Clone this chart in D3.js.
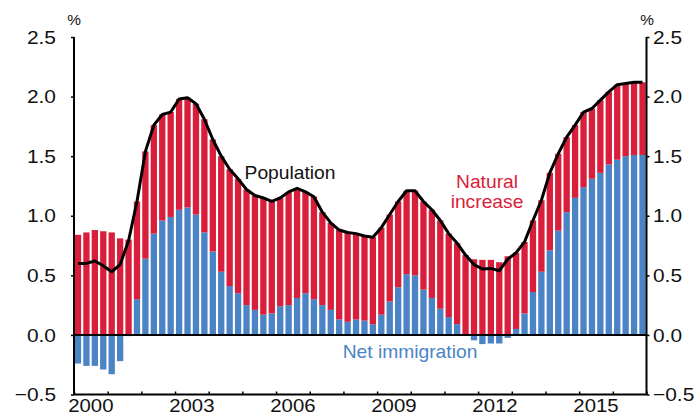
<!DOCTYPE html>
<html>
<head>
<meta charset="utf-8">
<script src="https://cdn.jsdelivr.net/npm/d3@7"></script>
<style>
  body { margin: 0; background: #fff; }
  text { font-family: "Liberation Sans", Arial, sans-serif; }
</style>
</head>
<body>
<div id="wrapper"></div>
<script>
// quarterly data, 2000Q1 .. 2016Q4 (year-ended growth, %)
const years = [2000, 2001, 2002, 2003, 2004, 2005, 2006, 2007, 2008,
               2009, 2010, 2011, 2012, 2013, 2014, 2015, 2016]
const quarters = years.flatMap(y => ["Q1", "Q2", "Q3", "Q4"].map(q => y + q))

const netImmigration = [
  -0.24, -0.26, -0.26, -0.29, -0.33, -0.22, -0.01, 0.30,
   0.64,  0.85,  0.96,  0.99,  1.05,  1.07,  1.01, 0.86,
   0.70,  0.53,  0.41,  0.35,  0.25,  0.21,  0.17, 0.18,
   0.24,  0.25,  0.31,  0.35,  0.30,  0.25,  0.21, 0.13,
   0.11,  0.13,  0.12,  0.09,  0.17,  0.28,  0.40, 0.51,
   0.50,  0.38,  0.31,  0.22,  0.15,  0.09,  0.00, -0.045,
  -0.077, -0.072, -0.072, -0.025, 0.05, 0.18, 0.36, 0.53,
   0.71,  0.875, 1.03,  1.15,  1.24,  1.31,  1.36, 1.43,
   1.47,  1.50,  1.51,  1.51
]
const naturalIncrease = [
  0.84, 0.86, 0.88, 0.87, 0.86, 0.81, 0.80, 0.82,
  0.90, 0.91, 0.89, 0.88, 0.93, 0.92, 0.93, 0.95,
  0.94, 0.97, 0.98, 0.96, 0.97, 0.96, 0.98, 0.94,
  0.91, 0.95, 0.92, 0.85, 0.86, 0.78, 0.73, 0.75,
  0.75, 0.72, 0.71, 0.73, 0.73, 0.73, 0.72, 0.70,
  0.71, 0.74, 0.74, 0.74, 0.70, 0.68, 0.67, 0.635,
  0.63, 0.63, 0.61, 0.66, 0.64, 0.60, 0.60, 0.60,
  0.65, 0.645, 0.63, 0.61, 0.63, 0.59, 0.61, 0.61,
  0.63, 0.61, 0.61, 0.61
]
const yTicks = [-0.5, 0, 0.5, 1, 1.5, 2, 2.5]
const yearLabels = [2000, 2003, 2006, 2009, 2012, 2015]

const RED = "#d91e3b"
const BLUE = "#4a84c5"

const width = 697
const height = 416
const margin = { left: 74, right: 646.5, top: 37, bottom: 394.5 }

const data = quarters.map((q, i) => ({
  q,
  net: netImmigration[i],
  nat: naturalIncrease[i],
  total: netImmigration[i] + naturalIncrease[i]
}))

const svg = d3.select("#wrapper")
  .append("svg")
  .attr("width", width)
  .attr("height", height)

const y = d3.scaleLinear().domain([-0.5, 2.5]).range([margin.bottom, margin.top])
const xYear = d3.scaleLinear().domain([2000, 2017]).range([margin.left, margin.right])
const x = d3.scaleBand().domain(quarters).range([margin.left, margin.right])
  .paddingInner(0.25).paddingOuter(0.1)

// net immigration bars
svg.append("g").selectAll("rect")
  .data(data)
  .join("rect")
  .attr("x", d => x(d.q))
  .attr("width", x.bandwidth())
  .attr("y", d => y(Math.max(d.net, 0)))
  .attr("height", d => Math.abs(y(d.net) - y(0)))
  .attr("fill", BLUE)

// natural increase stacked on top of positive immigration
svg.append("g").selectAll("rect")
  .data(data)
  .join("rect")
  .attr("x", d => x(d.q))
  .attr("width", x.bandwidth())
  .attr("y", d => y(Math.max(d.net, 0) + d.nat))
  .attr("height", d => y(Math.max(d.net, 0)) - y(Math.max(d.net, 0) + d.nat))
  .attr("fill", RED)

// zero line
svg.append("line")
  .attr("x1", margin.left).attr("x2", margin.right)
  .attr("y1", y(0)).attr("y2", y(0))
  .attr("stroke", "#000").attr("stroke-width", 2)

// axes (lines and ticks only, labels drawn separately)
const leftAxis = svg.append("g")
  .attr("transform", `translate(${margin.left},0)`)
  .call(d3.axisLeft(y).tickValues(yTicks).tickSize(3).tickFormat(""))
const rightAxis = svg.append("g")
  .attr("transform", `translate(${margin.right},0)`)
  .call(d3.axisRight(y).tickValues(yTicks).tickSize(3).tickFormat(""))
const bottomAxis = svg.append("g")
  .attr("transform", `translate(0,${margin.bottom})`)
  .call(d3.axisBottom(xYear).tickValues(d3.range(2000, 2018)).tickSize(-3).tickFormat(""))

leftAxis.select(".domain").attr("d", `M0,${margin.top}V${margin.bottom}`)
rightAxis.select(".domain").attr("d", `M0,${margin.top}V${margin.bottom}`)
bottomAxis.select(".domain").attr("d", `M${margin.left},0H${margin.right}`)
for (const ax of [leftAxis, rightAxis, bottomAxis]) {
  ax.select(".domain").attr("stroke", "#000").attr("stroke-width", 2)
  ax.selectAll(".tick line").attr("stroke", "#000").attr("stroke-width", 1.5)
}

// text helper: the reference text is slightly wide
function label(tx, ty, str, opts) {
  return svg.append("text")
    .attr("transform", `translate(${tx},${ty}) scale(1.1,1)`)
    .attr("text-anchor", opts.anchor || "middle")
    .attr("font-size", opts.size)
    .attr("fill", opts.color || "#111")
    .text(str)
}

const fmt = d3.format(".1f")
yTicks.forEach(v => {
  label(56, y(v) + 6.6, fmt(v), { anchor: "end", size: 19 })
  label(653, y(v) + 6.6, fmt(v), { anchor: "start", size: 19 })
})
yearLabels.forEach(yr => {
  label(xYear(yr + 0.5), 412, yr, { size: 18.5 })
})

label(74, 25, "%", { size: 14 })
label(647, 25, "%", { size: 14 })

// population line
const line = d3.line()
  .x(d => x(d.q) + x.bandwidth() / 2)
  .y(d => y(d.total))
svg.append("path")
  .datum(data)
  .attr("d", line)
  .attr("fill", "none")
  .attr("stroke", "#000")
  .attr("stroke-width", 3)
  .attr("stroke-linejoin", "round")

label(290, 179, "Population", { size: 17.5 })
label(487, 188, "Natural", { size: 17.5, color: RED })
label(487, 208, "increase", { size: 17.5, color: RED })
label(410, 358, "Net immigration", { size: 17.5, color: BLUE })
</script>
</body>
</html>
